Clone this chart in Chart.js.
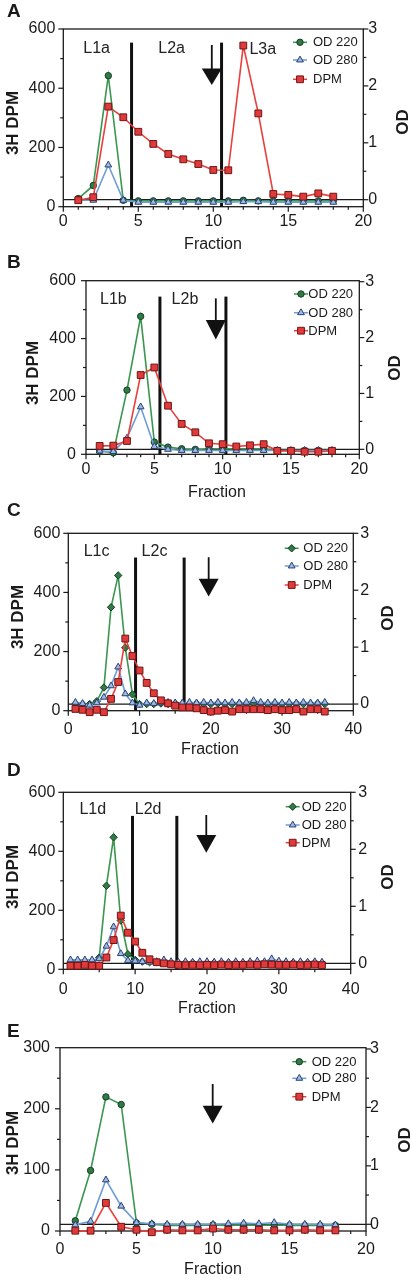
<!DOCTYPE html>
<html><head><meta charset="utf-8">
<script src="https://cdn.jsdelivr.net/npm/chart.js@4/dist/chart.umd.min.js"></script>
<style>
html,body{margin:0;padding:0;background:#fff;}
body{width:412px;height:1280px;position:relative;overflow:hidden;}
canvas{position:absolute;left:0;}
</style></head>
<body>
<canvas id="cA"></canvas><canvas id="cB"></canvas><canvas id="cC"></canvas><canvas id="cD"></canvas><canvas id="cE"></canvas>
<script>
// ---------- DATA ----------
const fracAB = [1,2,3,4,5,6,7,8,9,10,11,12,13,14,15,16,17,18];
const fracCD = [1,2,3,4,5,6,7,8,9,10,11,12,13,14,15,16,17,18,19,20,21,22,23,24,25,26,27,28,29,30,31,32,33,34,35,36];
const fracE = [1,2,3,4,5,6,7,8,9,10,11,12,13,14,15,16,17,18];

const dpmA   = [22,32,338,302,253,212,178,160,144,124,123,544,315,43,40,34,45,34];
const od220A = [0.02,0.25,2.18,-0.01,-0.02,-0.02,-0.02,-0.02,-0.02,-0.02,-0.02,-0.01,-0.02,-0.02,-0.02,-0.02,-0.02,-0.02];
const od280A = [-0.01,-0.01,0.61,-0.01,-0.045,-0.045,-0.045,-0.045,-0.045,-0.045,-0.045,-0.035,-0.035,-0.045,-0.045,-0.045,-0.045,-0.045];

const dpmB   = [29,30,46,274,300,168,105,76,38,35,27,31,35,12,12,9,9,12];
const od220B = [-0.03,-0.06,1.06,2.38,0.13,0.04,0.01,0.0,0.01,0.01,0.01,0.01,0.01,-0.02,-0.02,-0.02,-0.02,-0.02];
const od280B = [-0.03,-0.04,0.2,0.76,0.05,0.0,-0.02,-0.02,-0.02,-0.02,-0.02,-0.02,-0.02,-0.02,-0.02,-0.02,-0.02,-0.02];

const dpmC   = [6,3,-5,3,-5,40,97,244,185,136,94,59,35,25,17,11,11,8,2,-3,0,2,-3,5,5,5,5,2,5,2,2,5,-3,5,5,-3];
const od220C = [0.0,0.0,0.0,0.05,0.29,1.70,2.26,0.99,0.17,0.0,0.0,0.0,0.01,0.0,0.01,0.0,0.0,0.01,0.0,0.0,0.01,0.0,0.0,0.01,0.0,0.01,0.0,0.0,0.01,0.0,0.0,0.01,0.0,0.0,0.01,0.0];
const od280C = [0.03,0.01,-0.02,0.02,0.12,0.32,0.65,0.18,0.02,-0.02,0.02,0.01,0.02,0.03,0.02,0.02,0.03,0.02,0.03,0.02,0.03,0.02,0.03,0.02,0.03,0.06,0.03,0.02,0.03,0.02,0.03,0.02,0.03,0.02,0.02,0.03];

const dpmD   = [12,12,15,12,12,40,99,182,124,94,56,34,24,20,17,15,14,15,14,15,14,16,14,15,15,16,15,17,16,15,15,16,14,15,16,14];
const od220D = [0.0,0.0,0.0,0.0,0.1,1.36,2.21,0.75,0.16,0.06,0.03,0.02,0.02,0.02,0.01,0.01,0.01,0.01,0.01,0.01,0.01,0.01,0.01,0.01,0.01,0.01,0.01,0.01,0.02,0.01,0.01,0.01,0.01,0.01,0.01,0.01];
const od280D = [0.06,0.06,0.06,0.06,0.08,0.30,0.64,0.17,0.05,0.04,0.03,0.02,0.03,0.06,0.03,0.02,0.03,0.02,0.03,0.03,0.02,0.03,0.02,0.03,0.02,0.03,0.04,0.03,0.08,0.04,0.03,0.02,0.03,0.02,0.03,0.02];

const dpmE   = [0.5,0.5,46,7,2,-2,2,1,1,4,2,2,2,1,1,2,1,1];
const od220E = [0.06,0.92,2.18,2.05,0.02,0.0,-0.02,-0.02,-0.02,-0.01,-0.02,-0.01,-0.02,-0.01,-0.02,-0.02,-0.02,-0.02];
const od280E = [-0.01,0.05,0.76,0.31,0.03,0.01,0.0,0.0,0.0,0.0,0.01,0.02,0.01,0.03,0.0,0.0,0.0,-0.01];

// tick labels
const xTicks20 = [0,5,10,15,20];
const xTicks40 = [0,10,20,30,40];
const dpmTicks600 = [0,200,400,600];
const dpmTicks300 = [0,100,200,300];
const odTicks = [0,1,2,3];

// annotation text / markers
const seriesNames = ['OD 220','OD 280','DPM'];
const regionLabelsA = [['L1a',2.22,535],['L2a',7.22,535],['L3a',13.3,529]];
const regionLabelsB = [['L1b',2.0,533],['L2b',7.24,533]];
const regionLabelsC = [['L1c',3.97,538],['L2c',12.1,538]];
const regionLabelsD = [['L1d',4.1,542],['L2d',11.8,542]];
const dividersA = [4.55,10.55], dividersB = [5.41,10.24], dividersC = [9.44,16.26], dividersD = [9.63,15.8];
const arrowA = [9.9,546,467,411], arrowB = [9.5,539,464,397], arrowC = [19.7,519,446,386], arrowD = [19.9,523,455,395], arrowE = [9.98,240.6,205,176];

// ---------- STYLE ----------
const FONT = '"Liberation Sans", Arial, Helvetica, sans-serif';
const TXT = '#1a1a1a';
const GREEN = '#3a9650', GREEN_FILL = '#2f7a45', GREEN_EDGE = '#183d22';
const BLUE = '#6d9cd6', BLUE_FILL = '#9bbbe6', BLUE_EDGE = '#2b3f6e';
const RED = '#e8403c', RED_FILL = '#e03a3a', RED_EDGE = '#6e1616';
const R_RECT = 4.8, R_CIRC = 3.2, R_TRI = 3.9, R_DIA = 3.7;

function marker(ctx, style, x, y, r, fill, edge) {
  ctx.save();
  ctx.beginPath();
  if (style === 'circle') ctx.arc(x, y, r, 0, Math.PI*2);
  else if (style === 'rect') { const s = r*Math.SQRT1_2; ctx.rect(x-s, y-s, 2*s, 2*s); }
  else if (style === 'triangle') { ctx.moveTo(x, y - r); ctx.lineTo(x + r*0.866, y + r*0.5); ctx.lineTo(x - r*0.866, y + r*0.5); ctx.closePath(); }
  else if (style === 'rectRot') { ctx.moveTo(x, y-r); ctx.lineTo(x+r, y); ctx.lineTo(x, y+r); ctx.lineTo(x-r, y); ctx.closePath(); }
  ctx.fillStyle = fill; ctx.fill();
  ctx.lineWidth = 1; ctx.strokeStyle = edge; ctx.stroke();
  ctx.restore();
}

function makePanel(p) {
  const cv = document.getElementById(p.id);
  const H = p.cBot - p.cTop;
  cv.width = 412; cv.height = H;
  cv.style.width = '412px'; cv.style.height = H + 'px';
  cv.style.top = p.cTop + 'px';
  const T = p.plot.t - p.cTop, B = p.plot.b - p.cTop;
  const greenStyle = p.diamond ? 'rectRot' : 'circle';
  const greenR = p.diamond ? R_DIA : R_CIRC;

  const pts = (xs, ys) => xs.map((x, i) => ({x: x, y: ys[i]}));
  const ds = (label, xs, ys, axis, col, fill, edge, style, r, order) => ({
    label, data: pts(xs, ys), yAxisID: axis, borderColor: col, borderWidth: 1.6,
    pointStyle: style, pointRadius: r, pointBackgroundColor: fill, pointBorderColor: edge,
    pointBorderWidth: 1, tension: 0, clip: false, order, fill: false
  });

  const tickFont = {family: FONT, size: 16};
  const plugin = {
    id: 'decor' + p.id,
    beforeDatasetsDraw(chart) {
      const ctx = chart.ctx, a = chart.chartArea, x = chart.scales.x, y = chart.scales.y, y2 = chart.scales.y2;
      ctx.save();
      ctx.strokeStyle = '#1a1a1a'; ctx.lineWidth = 1.3;
      ctx.strokeRect(a.left, a.top, a.right - a.left, a.bottom - a.top);
      const z = y2.getPixelForValue(0);
      ctx.beginPath(); ctx.moveTo(a.left, z); ctx.lineTo(a.right, z); ctx.stroke();
      ctx.lineWidth = 1.2;
      const yStep = p.dpmTicks[1] - p.dpmTicks[0];
      for (let v = 0; v <= p.dpmTicks[p.dpmTicks.length-1] + 1e-9; v += yStep/2) {
        const py = y.getPixelForValue(v), major = Math.abs(v % yStep) < 1e-9;
        ctx.beginPath(); ctx.moveTo(a.left - (major ? 5 : 3), py); ctx.lineTo(a.left, py); ctx.stroke();
      }
      for (let v = 0; v <= 3 + 1e-9; v += 0.5) {
        const py = y2.getPixelForValue(v), major = Math.abs(v % 1) < 1e-9;
        ctx.beginPath(); ctx.moveTo(a.right, py); ctx.lineTo(a.right + (major ? 5 : 3), py); ctx.stroke();
      }
      const xStep = p.xTicks[1] - p.xTicks[0];
      for (let v = 0; v <= p.xTicks[p.xTicks.length-1] + 1e-9; v += p.xMinor) {
        const px = x.getPixelForValue(v), major = Math.abs(v % xStep) < 1e-9;
        ctx.beginPath(); ctx.moveTo(px, a.bottom); ctx.lineTo(px, a.bottom + (major ? 5 : 3)); ctx.stroke();
      }
      ctx.lineWidth = 3; ctx.strokeStyle = '#111';
      (p.dividers || []).forEach(d => {
        const px = x.getPixelForValue(d);
        ctx.beginPath(); ctx.moveTo(px, y.getPixelForValue(p.divTop)); ctx.lineTo(px, a.bottom); ctx.stroke();
      });
      ctx.restore();
    },
    afterDraw(chart) {
      const ctx = chart.ctx, x = chart.scales.x, y = chart.scales.y;
      const off = p.cTop;
      ctx.save();
      ctx.fillStyle = TXT;
      ctx.font = 'bold 19px ' + FONT; ctx.textAlign = 'left'; ctx.textBaseline = 'middle';
      ctx.fillText(p.letter, 7, p.letterY - off);
      ctx.font = '16px ' + FONT; ctx.textAlign = 'center';
      ctx.fillText('Fraction', p.fracX, p.fracY - off);
      ctx.save(); ctx.translate(p.dpmTitleX, p.dpmTitleY - off); ctx.rotate(-Math.PI/2);
      ctx.font = 'bold 17px ' + FONT; ctx.fillText('3H DPM', 0, 0); ctx.restore();
      ctx.save(); ctx.translate(p.odTitleX, p.odTitleY - off); ctx.rotate(-Math.PI/2);
      ctx.font = 'bold 17px ' + FONT; ctx.fillText('OD', 0, 0); ctx.restore();
      ctx.font = '16px ' + FONT; ctx.fillStyle = '#222';
      (p.regions || []).forEach(r => ctx.fillText(r[0], x.getPixelForValue(r[1]), y.getPixelForValue(r[2])));
      if (p.arrow) {
        const ax = x.getPixelForValue(p.arrow[0]);
        const y0 = y.getPixelForValue(p.arrow[1]), y1 = y.getPixelForValue(p.arrow[2]), y2p = y.getPixelForValue(p.arrow[3]);
        ctx.strokeStyle = '#111'; ctx.lineWidth = 1.8;
        ctx.beginPath(); ctx.moveTo(ax, y0); ctx.lineTo(ax, y1 + 1); ctx.stroke();
        ctx.fillStyle = '#111';
        ctx.beginPath(); ctx.moveTo(ax - 10, y1); ctx.lineTo(ax + 10, y1); ctx.lineTo(ax, y2p); ctx.closePath(); ctx.fill();
      }
      const items = [[GREEN, GREEN_FILL, GREEN_EDGE, greenStyle, greenR], [BLUE, BLUE_FILL, BLUE_EDGE, 'triangle', R_TRI], [RED, RED_FILL, RED_EDGE, 'rect', R_RECT]];
      ctx.font = '13px ' + FONT; ctx.textAlign = 'left'; ctx.textBaseline = 'middle';
      items.forEach((it, i) => {
        const ly = p.legY[i] - off;
        ctx.strokeStyle = it[0]; ctx.lineWidth = 1.5;
        ctx.beginPath(); ctx.moveTo(p.legMX - 7, ly); ctx.lineTo(p.legMX + 7, ly); ctx.stroke();
        marker(ctx, it[3], p.legMX, ly, it[4], it[1], it[2]);
        ctx.fillStyle = TXT; ctx.fillText(seriesNames[i], p.legTX, ly + 0.5);
      });
      ctx.restore();
    }
  };

  new Chart(cv, {
    type: 'line',
    data: { datasets: [
      ds('DPM', p.xs, p.dpm, 'y', RED, RED_FILL, RED_EDGE, 'rect', R_RECT, 0),
      ds('OD 280', p.xs, p.od280, 'y2', BLUE, BLUE_FILL, BLUE_EDGE, 'triangle', R_TRI, 1),
      ds('OD 220', p.xs, p.od220, 'y2', GREEN, GREEN_FILL, GREEN_EDGE, greenStyle, greenR, 2)
    ]},
    options: {
      responsive: false, animation: false, devicePixelRatio: 1,
      layout: { padding: { top: T, left: 0, right: 0, bottom: 0 } },
      plugins: { legend: { display: false }, tooltip: { enabled: false } },
      scales: {
        x: { type: 'linear', min: 0, max: p.xTicks[p.xTicks.length-1],
             afterBuildTicks: s => { s.ticks = p.xTicks.map(v => ({value: v})); },
             afterFit: s => { s.height = H - B; },
             grid: { display: false, drawTicks: false, tickLength: 0 }, border: { display: false },
             ticks: { font: tickFont, color: TXT, padding: p.xPad, maxRotation: 0, autoSkip: false } },
        y: { type: 'linear', position: 'left', min: 0, max: p.dpmTicks[p.dpmTicks.length-1],
             afterBuildTicks: s => { s.ticks = p.dpmTicks.map(v => ({value: v})); },
             afterFit: s => { s.width = p.plot.l; },
             grid: { display: false, drawTicks: false, tickLength: 0 }, border: { display: false },
             ticks: { font: tickFont, color: TXT, padding: p.yPad, autoSkip: false } },
        y2: { type: 'linear', position: 'right', min: p.odMin, max: p.odMax,
             afterBuildTicks: s => { s.ticks = odTicks.map(v => ({value: v})); },
             afterFit: s => { s.width = 412 - p.plot.r; },
             grid: { display: false, drawTicks: false, tickLength: 0 }, border: { display: false },
             ticks: { font: tickFont, color: TXT, padding: p.y2Pad, autoSkip: false } }
      }
    },
    plugins: [plugin]
  });
}

const panels = [
  { id:'cA', letter:'A', letterY:12, cTop:0, cBot:256, plot:{l:63.3, r:363.3, t:29, b:206.7},
    xs: fracAB, dpm: dpmA, od220: od220A, od280: od280A, xTicks: xTicks20, xMinor: 1, dpmTicks: dpmTicks600,
    odMin: -0.123, odMax: 3, xPad: 5.7, yPad: 8, y2Pad: 5,
    regions: regionLabelsA, dividers: dividersA, divTop: 554, arrow: arrowA,
    fracX: 213, fracY: 245, dpmTitleX: 13, dpmTitleY: 123, odTitleX: 403, odTitleY: 122,
    legMX: 300, legTX: 313, legY: [42.3, 60, 79.3] },
  { id:'cB', letter:'B', letterY:263, cTop:250, cBot:502, plot:{l:86, r:359.3, t:280.7, b:454.3},
    xs: fracAB, dpm: dpmB, od220: od220B, od280: od280B, xTicks: xTicks20, xMinor: 1, dpmTicks: dpmTicks600,
    odMin: -0.089, odMax: 3.018, xPad: 6.1, yPad: 10, y2Pad: 6,
    regions: regionLabelsB, dividers: dividersB, divTop: 545, arrow: arrowB,
    fracX: 217, fracY: 493, dpmTitleX: 33, dpmTitleY: 373, odTitleX: 395, odTitleY: 368,
    legMX: 301, legTX: 308.3, legY: [294, 312.7, 330.7] },
  { id:'cC', letter:'C', letterY:511, cTop:500, cBot:758, plot:{l:68.3, r:353.3, t:533.3, b:710.7}, diamond: true,
    xs: fracCD, dpm: dpmC, od220: od220C, od280: od280C, xTicks: xTicks40, xMinor: 5, dpmTicks: dpmTicks600,
    odMin: -0.117, odMax: 3, xPad: 9.7, yPad: 8, y2Pad: 7,
    regions: regionLabelsC, dividers: dividersC, divTop: 518, arrow: arrowC,
    fracX: 210, fracY: 750, dpmTitleX: 18, dpmTitleY: 617, odTitleX: 388, odTitleY: 618,
    legMX: 291.7, legTX: 303.3, legY: [548.3, 566, 585] },
  { id:'cD', letter:'D', letterY:771, cTop:756, cBot:1018, plot:{l:63.3, r:350.7, t:792.3, b:969.3}, diamond: true,
    xs: fracCD, dpm: dpmD, od220: od220D, od280: od280D, xTicks: xTicks40, xMinor: 5, dpmTicks: dpmTicks600,
    odMin: -0.105, odMax: 3, xPad: 10.4, yPad: 8, y2Pad: 7.6,
    regions: regionLabelsD, dividers: dividersD, divTop: 520, arrow: arrowD,
    fracX: 207, fracY: 1009, dpmTitleX: 13, dpmTitleY: 877, odTitleX: 388, odTitleY: 877,
    legMX: 292.7, legTX: 301.7, legY: [806.7, 825, 842.7] },
  { id:'cE', letter:'E', letterY:1032, cTop:1016, cBot:1280, plot:{l:60, r:366, t:1047.7, b:1231},
    xs: fracE, dpm: dpmE, od220: od220E, od280: od280E, xTicks: xTicks20, xMinor: 1, dpmTicks: dpmTicks300,
    odMin: -0.115, odMax: 3.022, xPad: 9.4, yPad: 10, y2Pad: 4,
    regions: [], dividers: [], divTop: 0, arrow: arrowE,
    fracX: 213, fracY: 1270, dpmTitleX: 13, dpmTitleY: 1143, odTitleX: 405, odTitleY: 1140,
    legMX: 299.3, legTX: 311.7, legY: [1061.7, 1078.3, 1096.7] }
];
panels.forEach(makePanel);
</script>
</body></html>
